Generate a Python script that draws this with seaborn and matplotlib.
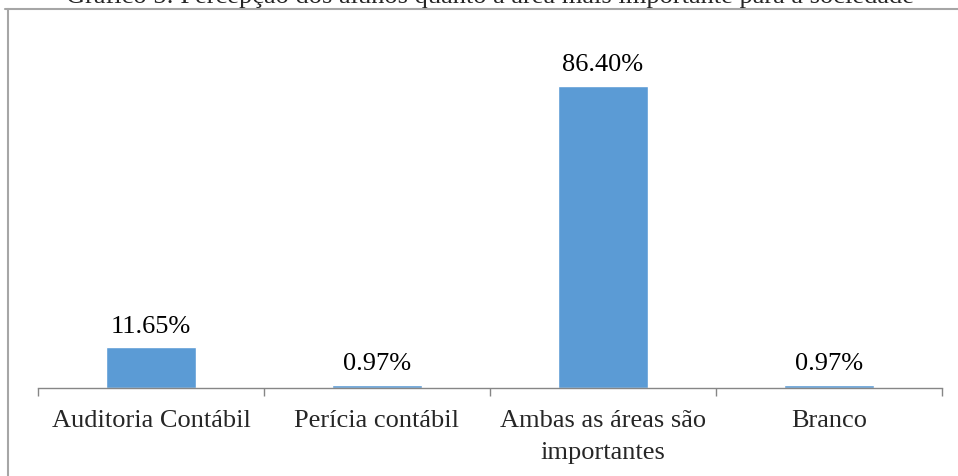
import matplotlib
matplotlib.use("Agg")
import matplotlib.pyplot as plt
from matplotlib.lines import Line2D
import seaborn as sns
import pandas as pd

# Chart data
categories = ["Auditoria Contábil", "Perícia contábil", "Ambas as áreas são\nimportantes", "Branco"]
values = [11.65, 0.97, 86.40, 0.97]
title = "Gráfico 5: Percepção dos alunos quanto à área mais importante para a sociedade"

sns.set_style("white")
plt.rcParams["font.family"] = ["Liberation Serif", "DejaVu Serif"]

df = pd.DataFrame({"categoria": categories, "valor": values})

fig = plt.figure(figsize=(9.58, 4.76), dpi=100)
ax = fig.add_axes([38 / 958, 88 / 476, 904 / 958, 350 / 476])

sns.barplot(data=df, x="categoria", y="valor", color="#5B9BD5", width=0.4,
            saturation=1, ax=ax)

# value labels above each bar
for i, v in enumerate(values):
    ax.annotate(f"{v:.2f}%", (i, v), xytext=(0, 7), textcoords="offset points",
                ha="center", va="bottom", fontsize=19, color="black")

ax.set_xlim(-0.5, len(categories) - 0.5)
ax.set_ylim(0, 100)
ax.set_xlabel("")
ax.set_ylabel("")
ax.set_yticks([])

# category labels centred, tick marks on the boundaries between categories
ax.tick_params(axis="x", which="major", bottom=False, length=0, labelsize=19, pad=16)
ax.set_xticks([i - 0.5 for i in range(len(categories) + 1)], minor=True)
ax.tick_params(axis="x", which="minor", bottom=True, length=6, width=1,
               color="#868686", direction="out")
for lbl in ax.get_xticklabels():
    lbl.set_linespacing(1.55)

for side in ["top", "right", "left"]:
    ax.spines[side].set_visible(False)
ax.spines["bottom"].set_color("#868686")
ax.spines["bottom"].set_linewidth(1)

# title, cut off at the top like in the source image
fig.text(490 / 958, 1 - 3 / 476, title, ha="center", va="baseline", fontsize=19)

# chart frame (only the top and left edges are visible)
frame = "#A6A6A6"
fig.add_artist(Line2D([5 / 958, 1], [1 - 9 / 476, 1 - 9 / 476], transform=fig.transFigure,
                      color=frame, lw=1.5))
fig.add_artist(Line2D([8 / 958, 8 / 958], [0, 1 - 9 / 476], transform=fig.transFigure,
                      color=frame, lw=1.5))

fig.savefig("out.png", dpi=100)
